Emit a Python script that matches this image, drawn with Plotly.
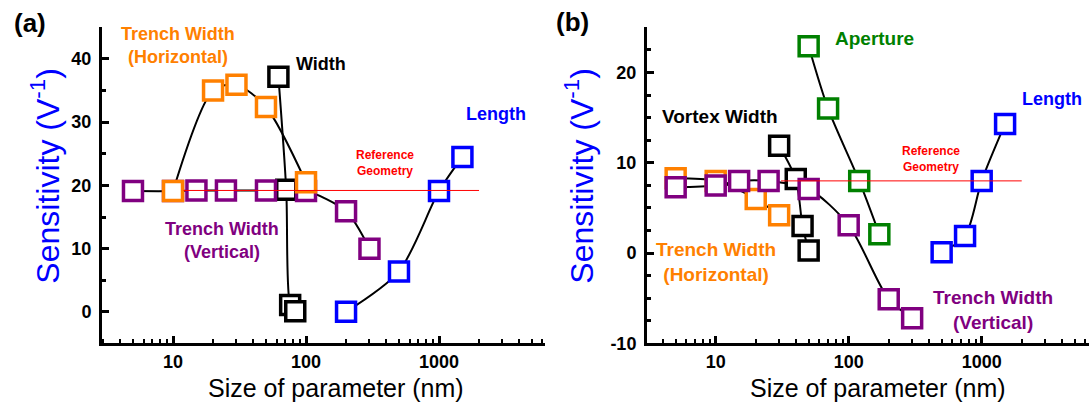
import math
import plotly.graph_objects as go

# ---------------- data ----------------
# Panel (a)
a_vert_x = [5, 10, 15, 25, 50, 100, 200, 300]
a_vert_y = [19.1, 19.1, 19.2, 19.2, 19.2, 19.1, 15.9, 10.0]
a_horiz_x = [10, 20, 30, 50, 100]
a_horiz_y = [19.1, 35.0, 35.9, 32.4, 20.5]
a_width_x = [62, 71, 76, 83]
a_width_y = [37.2, 19.3, 1.1, 0.1]
a_len_x = [200, 500, 1000, 1500]
a_len_y = [0.0, 6.4, 19.1, 24.5]
a_ref_x = [12, 2000]
a_ref_y = [19.2, 19.2]

# Panel (b)
b_vert_x = [5, 10, 15, 25, 50, 100, 200, 300]
b_vert_y = [7.3, 7.5, 8.0, 8.0, 7.1, 3.1, -5.1, -7.2]
b_horiz_x = [5, 10, 20, 30]
b_horiz_y = [8.3, 8.0, 6.0, 4.2]
b_vortex_x = [30, 40, 45, 50]
b_vortex_y = [11.9, 8.2, 3.0, 0.3]
b_ap_x = [50, 70, 120, 170]
b_ap_y = [22.9, 16.0, 8.0, 2.1]
b_len_x = [500, 750, 1000, 1500]
b_len_y = [0.1, 1.9, 8.0, 14.3]
b_ref_x = [31, 2000]
b_ref_y = [8.0, 8.0]

x_major = [10, 100, 1000]
x_major_text = ["10", "100", "1000"]
a_yticks = [0, 10, 20, 30, 40]
b_yticks = [-10, 0, 10, 20]

# ---------------- styling ----------------
W, H = 1089, 413
FONT = "Liberation Sans, Arial, sans-serif"
ORANGE = "#FF8000"
PURPLE = "#800080"
BLUE = "#0000FF"
GREEN = "#008000"
BLACK = "#000000"
RED = "#FF0000"

# minor tick positions for log axes: 2..9 in every decade
x_minor = [m * 10 ** d for d in range(0, 4) for m in range(2, 10)]


def px(x):
    return min(1.0, x / W)


def py(y):
    return 1 - y / H


fig = go.Figure()


def add_lines(xs, ys, xa, ya):
    fig.add_trace(go.Scatter(
        x=xs, y=ys, mode="lines", xaxis=xa, yaxis=ya,
        line=dict(color=BLACK, width=2, shape="spline", smoothing=0.8),
        hoverinfo="skip", showlegend=False))


def add_markers(xs, ys, color, xa, ya):
    fig.add_trace(go.Scatter(
        x=xs, y=ys, mode="markers", xaxis=xa, yaxis=ya,
        marker=dict(symbol="square", size=19, color="white",
                    line=dict(color=color, width=3.5)),
        showlegend=False))


# panel (a): lines first, then markers, then reference line on top
for xs, ys in [(a_width_x, a_width_y), (a_vert_x, a_vert_y),
               (a_horiz_x, a_horiz_y), (a_len_x, a_len_y)]:
    add_lines(xs, ys, "x", "y")
add_markers(a_width_x, a_width_y, BLACK, "x", "y")
add_markers(a_vert_x, a_vert_y, PURPLE, "x", "y")
add_markers(a_horiz_x, a_horiz_y, ORANGE, "x", "y")
add_markers(a_len_x, a_len_y, BLUE, "x", "y")
fig.add_trace(go.Scatter(x=a_ref_x, y=a_ref_y, mode="lines", xaxis="x", yaxis="y",
                         line=dict(color=RED, width=1), showlegend=False))

# panel (b)
for xs, ys in [(b_horiz_x, b_horiz_y), (b_vortex_x, b_vortex_y), (b_ap_x, b_ap_y),
               (b_len_x, b_len_y), (b_vert_x, b_vert_y)]:
    add_lines(xs, ys, "x2", "y2")
add_markers(b_horiz_x, b_horiz_y, ORANGE, "x2", "y2")
add_markers(b_vortex_x, b_vortex_y, BLACK, "x2", "y2")
add_markers(b_ap_x, b_ap_y, GREEN, "x2", "y2")
add_markers(b_len_x, b_len_y, BLUE, "x2", "y2")
add_markers(b_vert_x, b_vert_y, PURPLE, "x2", "y2")
fig.add_trace(go.Scatter(x=b_ref_x, y=b_ref_y, mode="lines", xaxis="x2", yaxis="y2",
                         line=dict(color=RED, width=1), showlegend=False))

tickfont = dict(family=FONT, size=18, color=BLACK, weight="bold")


def xaxis_cfg(domain, rng, anchor):
    return dict(
        type="log", domain=domain, range=rng, anchor=anchor,
        showline=True, linewidth=3, linecolor=BLACK, mirror=False,
        showgrid=False, zeroline=False,
        ticks="inside", ticklen=7, tickwidth=2.5, tickcolor=BLACK,
        tickmode="array", tickvals=x_major, ticktext=x_major_text,
        tickfont=tickfont, ticklabelstandoff=0,
        minor=dict(ticks="inside", ticklen=4, tickwidth=2, tickcolor=BLACK,
                   tickmode="array", tickvals=x_minor, showgrid=False),
    )


def yaxis_cfg(domain, rng, ticks, minor_dtick, anchor):
    return dict(
        domain=domain, range=rng, anchor=anchor,
        showline=True, linewidth=3, linecolor=BLACK, mirror=False,
        showgrid=False, zeroline=False,
        ticks="inside", ticklen=7, tickwidth=2.5, tickcolor=BLACK,
        tickmode="array", tickvals=ticks, ticktext=[str(v) for v in ticks],
        tickfont=tickfont, ticklabelstandoff=4,
        minor=dict(ticks="inside", ticklen=4, tickwidth=2.5, tickcolor=BLACK,
                   tickmode="linear", tick0=0, dtick=minor_dtick, showgrid=False),
    )


y_dom = [py(352), py(28)]
fig.update_layout(
    width=W, height=H, autosize=False,
    margin=dict(l=0, r=0, t=0, b=0),
    paper_bgcolor="white", plot_bgcolor="white",
    showlegend=False,
    xaxis=xaxis_cfg([px(102), px(545)], [0.466, 3.797], "y"),
    yaxis=yaxis_cfg(y_dom, [-5, 45], a_yticks, 5, "x"),
    xaxis2=xaxis_cfg([px(647), 1.0], [0.4835, 3.807], "y2"),
    yaxis2=yaxis_cfg(y_dom, [-10, 25], b_yticks, 2.5, "x2"),
)


def label(text, x, y, color, size, bold=True, angle=0, anchor="center"):
    fig.add_annotation(
        text=text, x=px(x), y=py(y), xref="paper", yref="paper",
        xanchor=anchor, yanchor="middle", showarrow=False, textangle=angle,
        font=dict(family=FONT, size=size, color=color,
                  weight="bold" if bold else "normal"))


# panel labels
label("(a)", 30, 24, BLACK, 26)
label("(b)", 572, 23, BLACK, 26)

# axis titles
ytitle = "Sensitivity (V<sup>-1</sup>)"
label(ytitle, 45, 180, BLUE, 32, bold=False, angle=-90)
label(ytitle, 579, 180, BLUE, 32, bold=False, angle=-90)
label("Size of parameter (nm)", 336, 398, BLACK, 25, bold=False)
label("Size of parameter (nm)", 878, 398, BLACK, 25, bold=False)

# series labels, panel (a)
label("Trench Width<br>(Horizontal)", 178, 47, ORANGE, 18)
label("Width", 321, 66, BLACK, 18)
label("Length", 496, 117, BLUE, 18)
label("Reference<br>Geometry", 385, 167, RED, 12)
label("Trench Width<br>(Vertical)", 222, 246, PURPLE, 18)

# series labels, panel (b)
label("Aperture", 874, 39, GREEN, 19)
label("Vortex Width", 720, 119, BLACK, 19)
label("Length", 1052, 101, BLUE, 18)
label("Reference<br>Geometry", 931, 163, RED, 12)
label("Trench Width<br>(Horizontal)", 716, 268, ORANGE, 19)
label("Trench Width<br>(Vertical)", 993, 318, PURPLE, 19)

fig.write_html(
    "out.html",
    config={"displayModeBar": False},
    post_script="document.body.style.margin='0px';document.body.style.overflow='hidden';",
)
